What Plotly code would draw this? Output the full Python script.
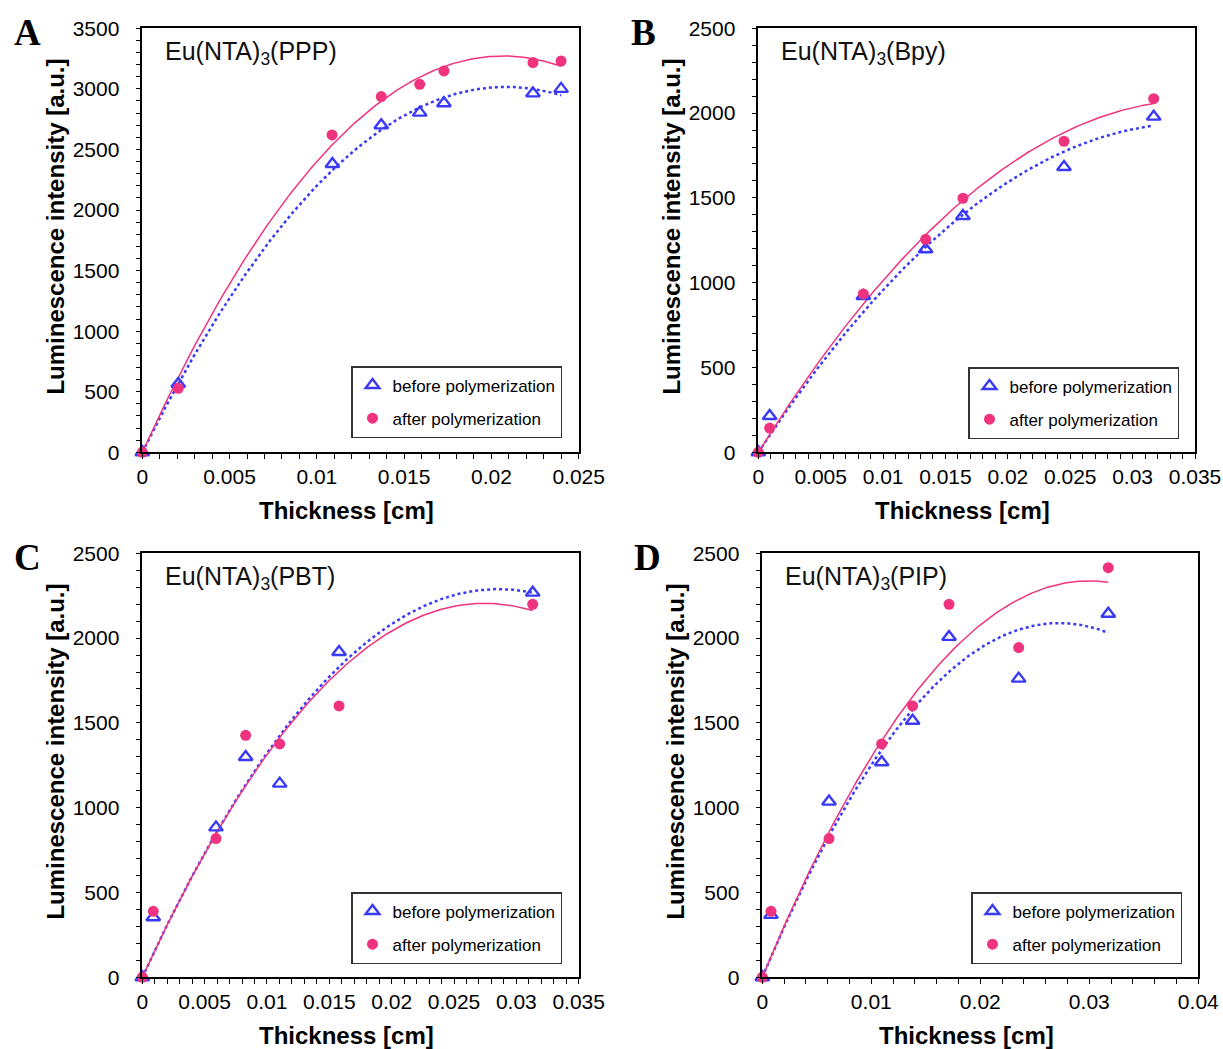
import numpy as np
import plotly.graph_objects as go

# ---- data: thickness [cm] and luminescence intensity [a.u.] ----
# Panel A: Eu(NTA)3(PPP)
a_x_before = [0.0, 0.00206, 0.01089, 0.01369, 0.01589, 0.01728, 0.02238, 0.02399]
a_y_before = [0, 565, 2380, 2699, 2804, 2881, 2963, 3000]
a_x_after = [0.0, 0.00206, 0.01087, 0.01369, 0.01589, 0.01728, 0.02238, 0.02399]
a_y_after = [0, 528, 2620, 2936, 3038, 3148, 3217, 3230]

# Panel B: Eu(NTA)3(Bpy)
b_x_before = [0.0, 0.00091, 0.00842, 0.01341, 0.0164, 0.0245, 0.03169]
b_y_before = [0, 214, 922, 1197, 1393, 1682, 1979]
b_x_after = [0.0, 0.00091, 0.00842, 0.01341, 0.0164, 0.0245, 0.03169]
b_y_after = [0, 143, 934, 1256, 1498, 1834, 2085]

# Panel C: Eu(NTA)3(PBT)
c_x_before = [0.0, 0.00088, 0.00591, 0.00829, 0.01102, 0.01578, 0.03131]
c_y_before = [0, 354, 884, 1299, 1142, 1918, 2268]
c_x_after = [0.0, 0.00088, 0.00591, 0.00829, 0.01102, 0.01578, 0.03131]
c_y_after = [0, 389, 818, 1427, 1376, 1600, 2199]

# Panel D: Eu(NTA)3(PIP)
d_x_before = [0.0, 0.0008, 0.00612, 0.01095, 0.01379, 0.01713, 0.02352, 0.03174]
d_y_before = [0, 368, 1036, 1268, 1513, 2007, 1761, 2144]
d_x_after = [0.0, 0.0008, 0.00612, 0.01095, 0.01379, 0.01713, 0.02352, 0.03174]
d_y_after = [0, 389, 818, 1376, 1600, 2199, 1944, 2415]

panel_titles = ["Eu(NTA)<sub>3</sub>(PPP)", "Eu(NTA)<sub>3</sub>(Bpy)",
                "Eu(NTA)<sub>3</sub>(PBT)", "Eu(NTA)<sub>3</sub>(PIP)"]
panel_letters = ["A", "B", "C", "D"]
series_names = ["before polymerization", "after polymerization"]

x_ticks_025 = [0, 0.005, 0.01, 0.015, 0.02, 0.025]
x_ticklabels_025 = ["0", "0.005", "0.01", "0.015", "0.02", "0.025"]
x_ticks_035 = [0, 0.005, 0.01, 0.015, 0.02, 0.025, 0.03, 0.035]
x_ticklabels_035 = ["0", "0.005", "0.01", "0.015", "0.02", "0.025", "0.03", "0.035"]
x_ticks_04 = [0, 0.01, 0.02, 0.03, 0.04]
x_ticklabels_04 = ["0", "0.01", "0.02", "0.03", "0.04"]
y_ticks_3500 = [0, 500, 1000, 1500, 2000, 2500, 3000, 3500]
y_ticklabels_3500 = ["0", "500", "1000", "1500", "2000", "2500", "3000", "3500"]
y_ticks_2500 = [0, 500, 1000, 1500, 2000, 2500]
y_ticklabels_2500 = ["0", "500", "1000", "1500", "2000", "2500"]

# ---- styling ----
W, H = 1223, 1049
BLUE = "#3A3AF6"
PINK = "#F0337F"
SANS = "Liberation Sans, Arial, sans-serif"
SERIF = "Liberation Serif, Times New Roman, serif"


def px(x):
    return x / W


def py(y):
    return 1 - y / H


def quad_fit(x, y, n=200):
    """Least-squares quadratic trendline forced through the origin."""
    x = np.asarray(x, float)
    y = np.asarray(y, float)
    basis = np.column_stack([x, x ** 2])
    coef, *_ = np.linalg.lstsq(basis, y, rcond=None)
    xs = np.linspace(0, x.max(), n)
    return xs, coef[0] * xs + coef[1] * xs ** 2


# plot-area boxes in pixels: (left, right, top, bottom)
boxes = [(142.3, 578.7, 28.3, 452.3), (758.3, 1195.0, 28.3, 452.3),
         (142.3, 578.7, 553.3, 977.3), (762.3, 1198.3, 553.3, 977.3)]

panels = [
    (a_x_before, a_y_before, a_x_after, a_y_after,
     [0, 0.025], 0.001, x_ticks_025, x_ticklabels_025, [0, 3500], y_ticks_3500, y_ticklabels_3500),
    (b_x_before, b_y_before, b_x_after, b_y_after,
     [0, 0.035], 0.001, x_ticks_035, x_ticklabels_035, [0, 2500], y_ticks_2500, y_ticklabels_2500),
    (c_x_before, c_y_before, c_x_after, c_y_after,
     [0, 0.035], 0.001, x_ticks_035, x_ticklabels_035, [0, 2500], y_ticks_2500, y_ticklabels_2500),
    (d_x_before, d_y_before, d_x_after, d_y_after,
     [0, 0.04], 0.002, x_ticks_04, x_ticklabels_04, [0, 2500], y_ticks_2500, y_ticklabels_2500),
]

fig = go.Figure()
annotations = []
legend_names = ["legend", "legend2", "legend3", "legend4"]
legend_pos = [(351, 366), (968, 367), (351, 892), (971, 892)]

for i, (xb, yb, xa, ya, xr, xminor, xtv, xtt, yr, ytv, ytt) in enumerate(panels):
    n = "" if i == 0 else str(i + 1)
    xa_ref, ya_ref = "x" + n, "y" + n
    lg = legend_names[i]

    # trendlines
    fx, fy = quad_fit(xb, yb)
    fig.add_trace(go.Scatter(x=fx, y=fy, mode="lines", xaxis=xa_ref, yaxis=ya_ref,
                             line=dict(color=BLUE, width=2.5, dash="dot"),
                             showlegend=False, hoverinfo="skip"))
    fx, fy = quad_fit(xa, ya)
    fig.add_trace(go.Scatter(x=fx, y=fy, mode="lines", xaxis=xa_ref, yaxis=ya_ref,
                             line=dict(color=PINK, width=1.5),
                             showlegend=False, hoverinfo="skip"))
    # measured points
    fig.add_trace(go.Scatter(x=xb, y=yb, mode="markers", name=series_names[0],
                             xaxis=xa_ref, yaxis=ya_ref, legend=lg, legendgroup=f"b{i}",
                             cliponaxis=False,
                             marker=dict(symbol="triangle-up-open", size=12, color=BLUE,
                                         line=dict(color=BLUE, width=2.4))))
    fig.add_trace(go.Scatter(x=xa, y=ya, mode="markers", name=series_names[1],
                             xaxis=xa_ref, yaxis=ya_ref, legend=lg, legendgroup=f"a{i}",
                             cliponaxis=False,
                             marker=dict(symbol="circle", size=11, color=PINK)))

    left, right, top, bottom = boxes[i]
    common = dict(showline=True, linecolor="black", linewidth=1.5, mirror=True,
                  ticks="outside", ticklen=5, tickwidth=1.2, tickcolor="black",
                  showgrid=False, zeroline=False, automargin=False,
                  tickfont=dict(family=SANS, size=21, color="black"))
    fig.layout["xaxis" + n] = dict(
        common, domain=[px(left), px(right)], range=xr, anchor=ya_ref,
        tickmode="array", tickvals=xtv, ticktext=xtt, ticklabelstandoff=0,
        minor=dict(dtick=xminor, ticks="outside", ticklen=5, tickwidth=1, tickcolor="black"))
    fig.layout["yaxis" + n] = dict(
        common, domain=[py(bottom), py(top)], range=yr, anchor=xa_ref,
        tickmode="array", tickvals=ytv, ticktext=ytt, ticklabelstandoff=12,
        minor=dict(dtick=100, ticks="outside", ticklen=5, tickwidth=1, tickcolor="black"))

    # legend box
    lx, ly = legend_pos[i]
    fig.layout[lg] = dict(x=px(lx), y=py(ly), xanchor="left", yanchor="top",
                          xref="paper", yref="paper",
                          bgcolor="white", bordercolor="#333", borderwidth=1.5,
                          font=dict(family=SANS, size=17, color="black"),
                          tracegroupgap=8, traceorder="grouped")

    # compound name inside the plot
    annotations.append(dict(text=panel_titles[i], xref="paper", yref="paper",
                            x=px(left + 21), y=py(top + 25), xanchor="left", yanchor="middle",
                            showarrow=False, font=dict(family=SANS, size=25, color="#111")))
    # panel letter
    annotations.append(dict(text="<b>" + panel_letters[i] + "</b>", xref="paper", yref="paper",
                            x=px(left - 115), y=py(top + 4), xanchor="center", yanchor="middle",
                            showarrow=False, font=dict(family=SERIF, size=37, color="black")))
    # axis titles
    annotations.append(dict(text="<b>Thickness [cm]</b>", xref="paper", yref="paper",
                            x=px((left + right) / 2 - 14), y=py(bottom + 58),
                            xanchor="center", yanchor="middle", showarrow=False,
                            font=dict(family=SANS, size=24, color="black")))
    annotations.append(dict(text="<b>Luminescence intensity [a.u.]</b>", xref="paper", yref="paper",
                            x=px(left - 87), y=py((top + bottom) / 2 - 14), textangle=-90,
                            xanchor="center", yanchor="middle", showarrow=False,
                            font=dict(family=SANS, size=24, color="black")))

fig.update_layout(width=W, height=H,
                  margin=dict(l=0, r=0, t=0, b=0, pad=0, autoexpand=False),
                  paper_bgcolor="white", plot_bgcolor="white",
                  annotations=annotations, showlegend=True)

fig.write_html("out.html")
